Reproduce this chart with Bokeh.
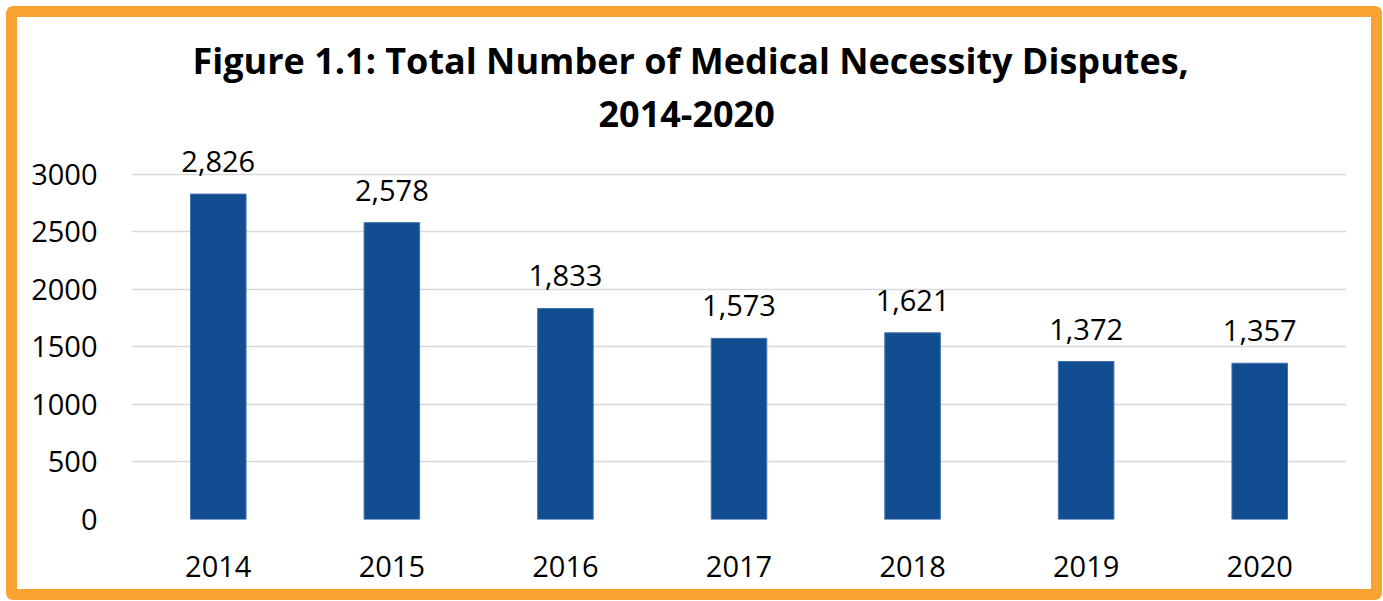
from bokeh.plotting import figure
from bokeh.models import ColumnDataSource, FixedTicker, LabelSet, FactorRange, Range1d, Title
from bokeh.core.properties import value
from bokeh.embed import file_html
from bokeh.resources import INLINE

years = ["2014", "2015", "2016", "2017", "2018", "2019", "2020"]
disputes = [2826, 2578, 1833, 1573, 1621, 1372, 1357]
bar_labels = ["2,826", "2,578", "1,833", "1,573", "1,621", "1,372", "1,357"]
y_ticks = [0, 500, 1000, 1500, 2000, 2500, 3000]
title_lines = ["Figure 1.1: Total Number of Medical Necessity Disputes,", "2014-2020"]

src = ColumnDataSource(data=dict(year=years, value=disputes, label=bar_labels))

p = figure(
    x_range=FactorRange(*years, range_padding=0),
    y_range=Range1d(0, 3300),
    width=1376, height=594,
    output_backend="svg", toolbar_location=None,
    min_border_left=114, min_border_right=47,
    min_border_top=122, min_border_bottom=92,
)
p.styles = {"border": "11px solid #F8A231", "border-radius": "7px",
            "margin-left": "6px", "margin-top": "6px"}

# titles stack upward: add the lower line first
for line, standoff, offset in ((title_lines[1], 26, 467), (title_lines[0], 1, 61)):
    t = Title(text=line, align="left", text_font="Open Sans", text_font_style="bold",
              text_font_size="36px", text_color="#000000", offset=offset, standoff=standoff)
    p.add_layout(t, "above")

p.vbar(x="year", top="value", width=0.32, source=src,
       fill_color="#134D91", line_color="#4272AC", line_width=1)

labels = LabelSet(x="year", y="value", text="label", source=src,
                  text_align="center", text_baseline="alphabetic", y_offset=22,
                  text_font=value("Open Sans"), text_font_size=value("29px"),
                  text_color="#000000")
p.add_layout(labels)

p.yaxis.ticker = FixedTicker(ticks=y_ticks)
p.ygrid.ticker = FixedTicker(ticks=y_ticks)
p.xgrid.grid_line_color = None
p.ygrid.grid_line_color = "#D9D9D9"
p.ygrid.grid_line_width = 1.5

for ax in (p.xaxis, p.yaxis):
    ax.axis_line_color = None
    ax.major_tick_line_color = None
    ax.minor_tick_line_color = None
    ax.major_label_text_font = "Open Sans"
    ax.major_label_text_font_size = "29px"
    ax.major_label_text_color = "#000000"

p.yaxis.major_label_standoff = 28
p.xaxis.major_label_standoff = 30
p.outline_line_color = None

open("out.html", "w").write(file_html(p, INLINE))
